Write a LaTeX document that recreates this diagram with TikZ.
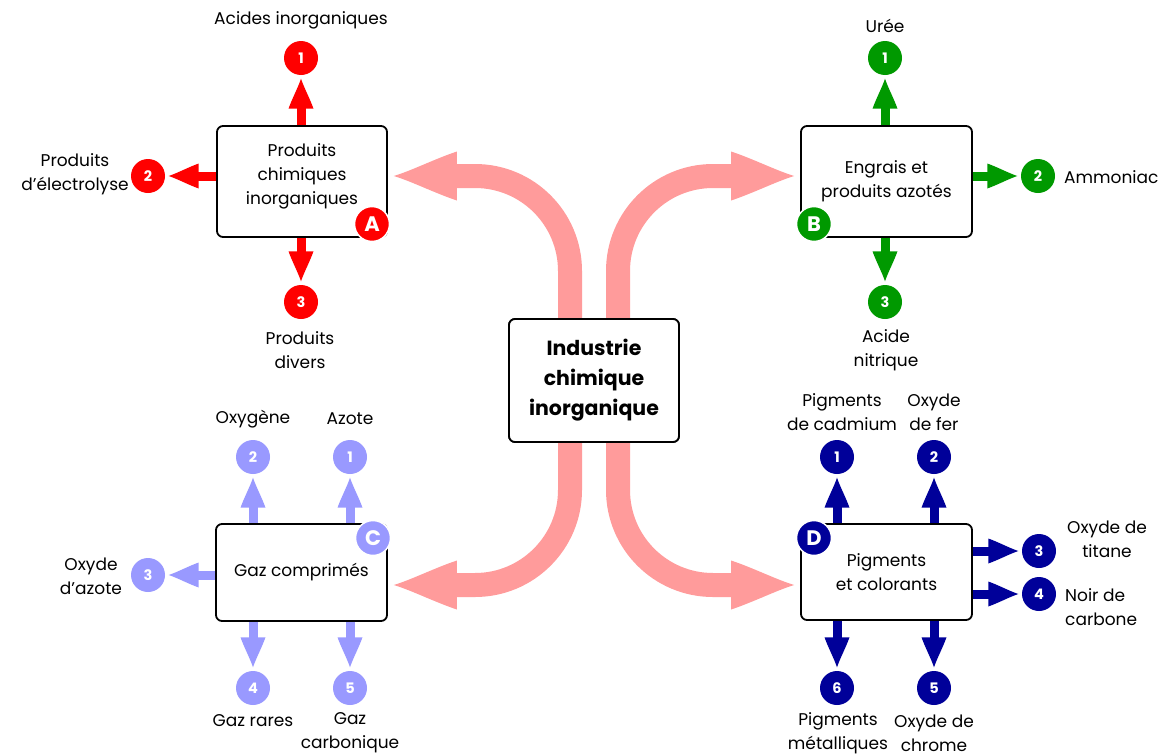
\documentclass[tikz,border=0pt]{standalone}
\usepackage{fontspec}
\setmainfont{Poppins}
\usetikzlibrary{arrows.meta,calc}

\definecolor{cRed}{RGB}{255,0,0}
\definecolor{cGreen}{RGB}{0,153,0}
\definecolor{cLav}{RGB}{153,153,255}
\definecolor{cNavy}{RGB}{0,0,153}
\definecolor{cPink}{RGB}{255,155,155}

% arrow head with slightly concave flanks and a flat back
\pgfdeclarearrow{
  name = Flare,
  defaults = {length = 30pt, width = 25pt},
  parameters = {\the\pgfarrowlength,\the\pgfarrowwidth},
  setup code = {
    \pgfarrowssettipend{0pt}
    \pgfarrowssetbackend{-\pgfarrowlength}
    \pgfarrowssetlineend{-.5\pgfarrowlength}
    \pgfarrowsupperhullpoint{-\pgfarrowlength}{.5\pgfarrowwidth}
    \pgfarrowsupperhullpoint{0pt}{0pt}
    \pgfarrowssavethe\pgfarrowlength
    \pgfarrowssavethe\pgfarrowwidth
  },
  drawing code = {
    \pgfpathmoveto{\pgfqpoint{0pt}{0pt}}
    \pgfpathcurveto{\pgfpoint{-.3\pgfarrowlength}{.12\pgfarrowwidth}}{\pgfpoint{-.65\pgfarrowlength}{.35\pgfarrowwidth}}{\pgfpoint{-\pgfarrowlength}{.5\pgfarrowwidth}}
    \pgfpathlineto{\pgfpoint{-\pgfarrowlength}{-.5\pgfarrowwidth}}
    \pgfpathcurveto{\pgfpoint{-.65\pgfarrowlength}{-.35\pgfarrowwidth}}{\pgfpoint{-.3\pgfarrowlength}{-.12\pgfarrowwidth}}{\pgfqpoint{0pt}{0pt}}
    \pgfpathclose
    \pgfusepathqfill
  }
}

\begin{document}
\begin{tikzpicture}[x=1pt,y=-1pt,
  box/.style={draw, line width=1.8pt, rounded corners=6pt, fill=white,
    align=center, inner sep=0pt, font=\fontsize{17}{24}\selectfont},
  hubbox/.style={box, font=\fontsize{20.5}{30}\selectfont\bfseries},
  lbl/.style={align=center, inner sep=0pt, font=\fontsize{17}{24}\selectfont},
  num/.style={circle, fill=#1, text=white, minimum size=34pt, inner sep=0pt,
    font=\fontsize{14.5}{14.5}\selectfont\bfseries},
  badge/.style={circle, fill=#1, draw=white, line width=1.5pt, text=white,
    minimum size=35pt, inner sep=0pt, font=\fontsize{21}{21}\selectfont\bfseries},
  flow/.style={draw=#1, color=#1, line width=9pt,
    -{Flare[length=30pt,width=25pt]}, shorten >=3.5pt},
  bigflow/.style={draw=cPink, color=cPink, line width=24pt, rounded corners=95pt,
    -{Flare[length=63pt,width=49pt]}}
]
\useasboundingbox (0,0) rectangle (1164,755);

% hub and the four branches
\node[hubbox, minimum width=170pt, minimum height=123pt] (hub) at (594,380.5) {};
\node[box, minimum width=170pt, minimum height=111pt] (A) at (302,181.5) {};
\node[box, minimum width=171pt, minimum height=111pt] (B) at (886.5,181.5)
  {Engrais et\\produits azotés};
\node[box, minimum width=171pt, minimum height=97pt] (C) at (301.5,572.5)
  {Gaz comprimés};
\node[box, minimum width=171pt, minimum height=96pt] (D) at (886.5,572)
  {Pigments\\et colorants};

% broad flows out of the hub
\draw[bigflow] ([xshift=-24pt]hub.north) |- ($(A.east)+(6,-5.5)$);
\draw[bigflow] ([xshift=24pt]hub.north) |- ($(B.west)+(-6,-5.5)$);
\draw[bigflow] ([xshift=-24pt]hub.south) |- ($(C.east)+(6,12.5)$);
\draw[bigflow] ([xshift=24pt]hub.south) |- ($(D.west)+(-6,13)$);

% hub drawn again on top of the flows
\node[hubbox, minimum width=170pt, minimum height=123pt] (hubtop) at (hub)
  {Industrie\\chimique\\inorganique};
\node[lbl] (Atext) at (302,176) {Produits\\chimiques\\inorganiques};

% numbered outputs
\node[num=cRed] (r1) at (301,58) {1};
\node[num=cRed] (r2) at (148,176) {2};
\node[num=cRed] (r3) at (301,302) {3};
\node[num=cGreen] (g1) at (885,58) {1};
\node[num=cGreen] (g2) at (1038,176) {2};
\node[num=cGreen] (g3) at (885,302) {3};
\node[num=cLav] (l1) at (350,457) {1};
\node[num=cLav] (l2) at (253,457) {2};
\node[num=cLav] (l3) at (148,575) {3};
\node[num=cLav] (l4) at (253,688) {4};
\node[num=cLav] (l5) at (350,688) {5};
\node[num=cNavy] (n1) at (837,457) {1};
\node[num=cNavy] (n2) at (934,457) {2};
\node[num=cNavy] (n3) at (1039,551) {3};
\node[num=cNavy] (n4) at (1039,594) {4};
\node[num=cNavy] (n5) at (934,688) {5};
\node[num=cNavy] (n6) at (837,688) {6};

% output arrows
\draw[flow=cRed] (A.north -| r1) -- (r1.south);
\draw[flow=cRed] (A.west |- r2) -- (r2.east);
\draw[flow=cRed] (A.south -| r3) -- (r3.north);
\draw[flow=cGreen] (B.north -| g1) -- (g1.south);
\draw[flow=cGreen] (B.east |- g2) -- (g2.west);
\draw[flow=cGreen] (B.south -| g3) -- (g3.north);
\draw[flow=cLav] (C.north -| l1) -- (l1.south);
\draw[flow=cLav] (C.north -| l2) -- (l2.south);
\draw[flow=cLav] (C.west |- l3) -- (l3.east);
\draw[flow=cLav] (C.south -| l4) -- (l4.north);
\draw[flow=cLav] (C.south -| l5) -- (l5.north);
\draw[flow=cNavy] (D.north -| n1) -- (n1.south);
\draw[flow=cNavy] (D.north -| n2) -- (n2.south);
\draw[flow=cNavy] (D.east |- n3) -- (n3.west);
\draw[flow=cNavy] (D.east |- n4) -- (n4.west);
\draw[flow=cNavy] (D.south -| n5) -- (n5.north);
\draw[flow=cNavy] (D.south -| n6) -- (n6.north);

% category badges
\node[badge=cRed] (bA) at (372,224) {A};
\node[badge=cGreen] (bB) at (814,224) {B};
\node[badge=cLav] (bC) at (373,538) {C};
\node[badge=cNavy] (bD) at (814,538) {D};

% product names
\node[lbl] (tr1) at (301,20) {Acides inorganiques};
\node[lbl] (tr2) at (75,174) {Produits\\d’électrolyse};
\node[lbl] (tr3) at (300,350) {Produits\\divers};
\node[lbl] (tg1) at (885,26) {Urée};
\node[lbl, anchor=west] (tg2) at (1064,177) {Ammoniac};
\node[lbl] (tg3) at (886,350) {Acide\\nitrique};
\node[lbl] (tl1) at (350,419) {Azote};
\node[lbl] (tl2) at (253,419) {Oxygène};
\node[lbl] (tl3) at (91,576) {Oxyde\\d’azote};
\node[lbl] (tl4) at (253,721) {Gaz rares};
\node[lbl] (tl5) at (350,733) {Gaz\\carbonique};
\node[lbl] (tn1) at (842,412) {Pigments\\de cadmium};
\node[lbl] (tn2) at (934,412) {Oxyde\\de fer};
\node[lbl] (tn3) at (1107,539) {Oxyde de\\titane};
\node[lbl, align=left, anchor=west] (tn4) at (1065,607) {Noir de\\carbone};
\node[lbl] (tn5) at (934,733) {Oxyde de\\chrome};
\node[lbl] (tn6) at (838,733) {Pigments\\métalliques};
\end{tikzpicture}
\end{document}
